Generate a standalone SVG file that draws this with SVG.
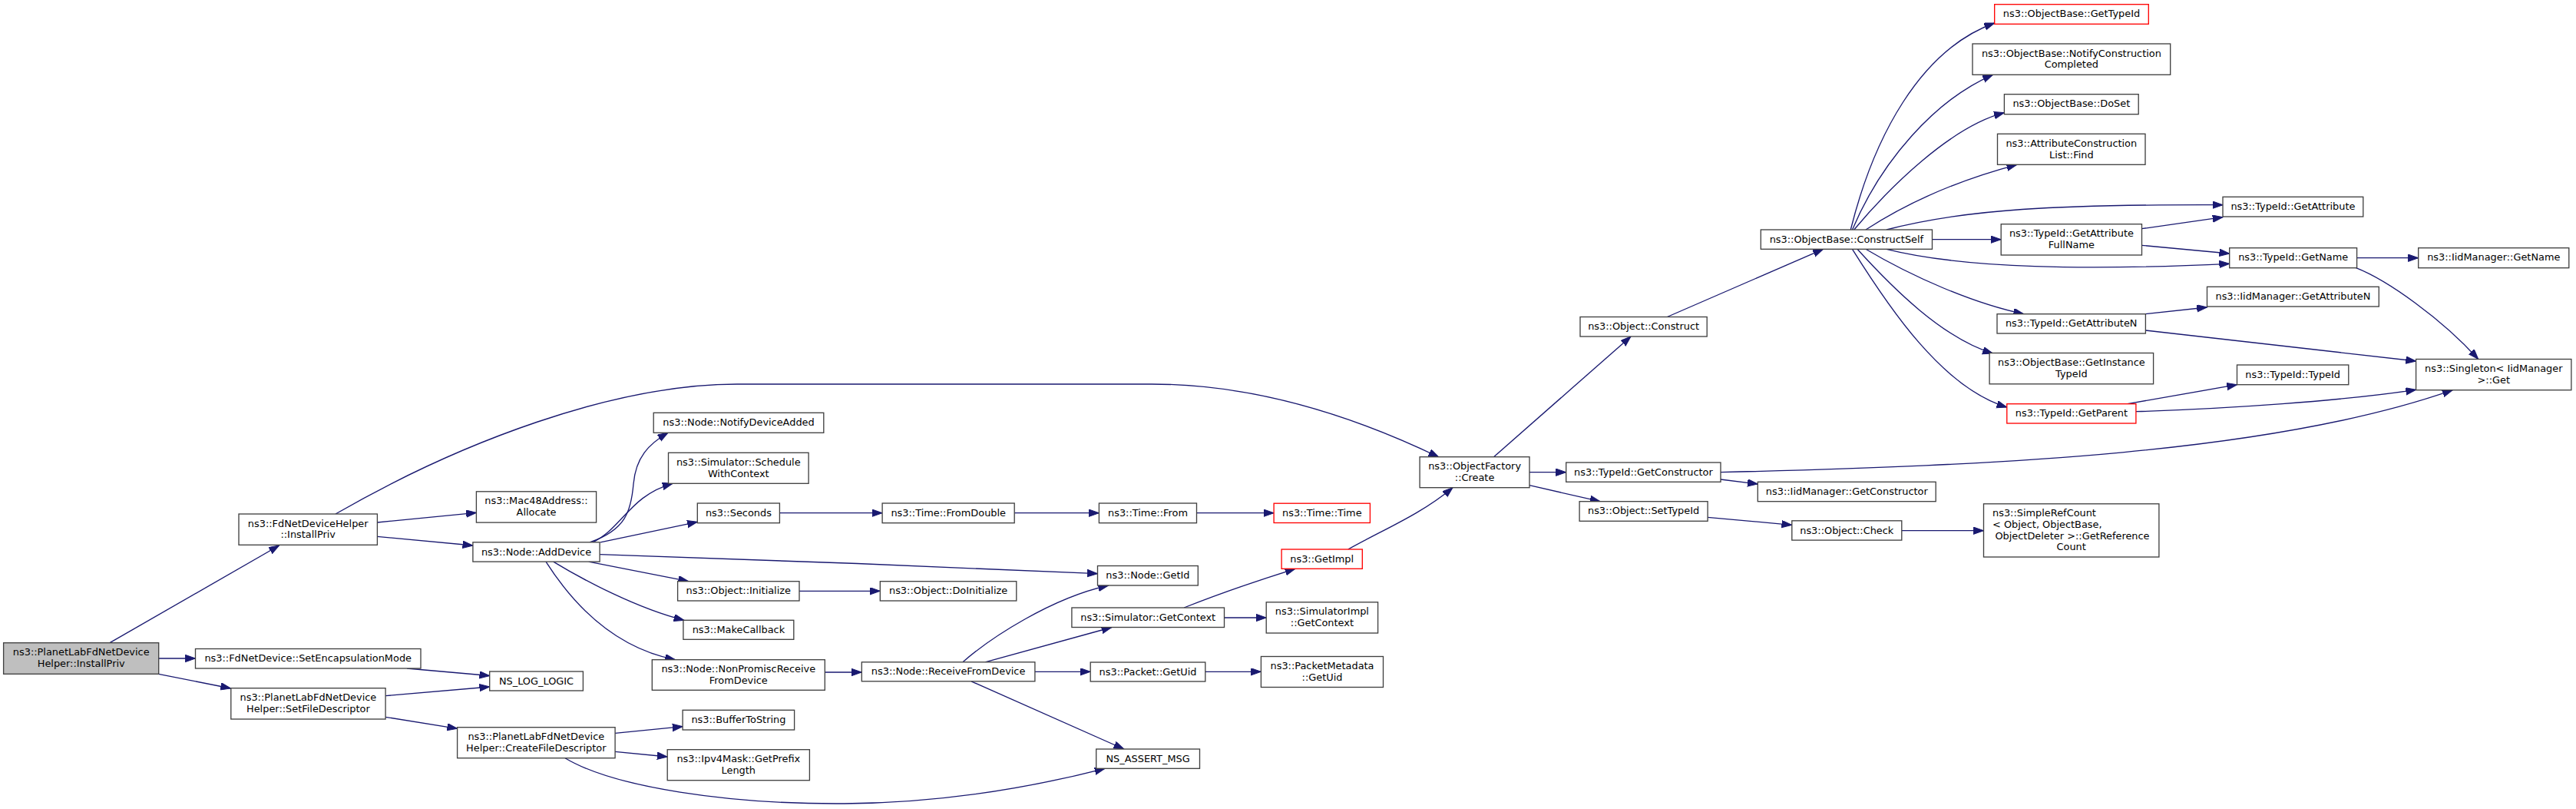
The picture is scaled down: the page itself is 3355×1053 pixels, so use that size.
<svg xmlns="http://www.w3.org/2000/svg" width="3355" height="1053" viewBox="0 0 3355 1053">
<style>
.n rect{fill:#ffffff;stroke:#404040;stroke-width:1.33}
.r rect{stroke:#ff0000}
.g rect{fill:#bfbfbf}
text{font-family:"DejaVu Sans","Liberation Sans",sans-serif;font-size:12.9px;fill:#000000;text-anchor:middle}
.e path{fill:none;stroke:#191970;stroke-width:1.33;marker-end:url(#a)}
</style>
<defs>
<marker id="a" markerUnits="userSpaceOnUse" markerWidth="15" markerHeight="11" refX="13.3" refY="4.7" orient="auto">
<path d="M0,0 L13.3,4.7 L0,9.4 z" fill="#191970" stroke="#191970" stroke-width="1"/>
</marker>
</defs>
<rect width="3355" height="1053" fill="#ffffff"/>
<g id="edges" class="e">
<path d="M143,836.7 L363.6,710"/>
<path d="M206.7,857 L254.5,857"/>
<path d="M206.7,877.3 L300.6,896"/>
<path d="M437,669 C600,575 800,500 960,500 L1500,500 C1640,500 1770,545 1874,595"/>
<path d="M491.4,680 L620.4,667.3"/>
<path d="M491.4,698.3 L615.9,710"/>
<path d="M530,870 L637.7,879.5"/>
<path d="M502,905.7 L637.7,894"/>
<path d="M502,933.3 L595.6,948.3"/>
<path d="M768,705.8 C815,690 822,665 825,630 C828,595 845,578 870,563.3"/>
<path d="M772,705.8 C810,688 820,645 876,629.3"/>
<path d="M782,705.8 L908.3,679.3"/>
<path d="M781.1,721.7 C950,727 1250,738 1429.5,746.7"/>
<path d="M766.7,731.1 L896.8,756.7"/>
<path d="M720.7,731.1 C760,755 830,792 891,807.3"/>
<path d="M711,731.1 C755,800 810,845 879.5,858.7"/>
<path d="M1015.4,667.7 L1149.1,667.7"/>
<path d="M1041,769.3 L1146.3,769.3"/>
<path d="M1074.3,875 L1122.3,875"/>
<path d="M801.1,954.3 L889.1,945.7"/>
<path d="M801.1,978.3 L869.2,985"/>
<path d="M736,986.7 C800,1025 950,1047 1100,1046 C1250,1045 1370,1018 1439,1000.3"/>
<path d="M1321.2,667.7 L1431.4,667.7"/>
<path d="M1558.5,667.7 L1659.1,667.7"/>
<path d="M1254,861.8 C1290,830 1370,778 1443.7,762"/>
<path d="M1283,861.8 L1448,816.5"/>
<path d="M1347.9,874.3 L1420.2,874.3"/>
<path d="M1265,886.8 L1463.8,975"/>
<path d="M1542,791 C1590,772 1640,755 1687,740.3"/>
<path d="M1594.5,804 L1649.2,804"/>
<path d="M1569.8,874.3 L1642.4,874.3"/>
<path d="M1755.8,715 C1800,690 1850,670 1892,634.7"/>
<path d="M1945.5,594.7 L2124,438"/>
<path d="M1992,614.7 L2039.7,614.7"/>
<path d="M1992,631.7 L2084,652.7"/>
<path d="M2171.4,412.5 L2374.5,324.3"/>
<path d="M2241,624 L2289.3,630"/>
<path d="M2241,614.7 C2600,606 2960,590 3194.3,507.7"/>
<path d="M2224.1,673.3 L2333.8,683.3"/>
<path d="M2476.8,690.7 L2583.5,690.7"/>
<path d="M2410.3,299 C2440,180 2500,65 2597.7,30"/>
<path d="M2412.5,299 C2450,210 2520,130 2595.5,97.3"/>
<path d="M2414.7,299 C2460,245 2540,165 2610.4,146.7"/>
<path d="M2430,299 C2490,260 2560,232 2626.8,214.3"/>
<path d="M2457,299 C2560,272 2680,266 2895,266.7"/>
<path d="M2516.5,311.7 L2606.2,311.7"/>
<path d="M2457,324.3 C2560,350 2720,352 2903.7,343.3"/>
<path d="M2430,324.3 C2490,360 2570,395 2635.7,408.7"/>
<path d="M2419,324.3 C2465,375 2530,440 2595.5,460"/>
<path d="M2412.5,324.3 C2460,400 2530,505 2613.8,530"/>
<path d="M2789.5,297.7 L2895,282.7"/>
<path d="M2789.5,319.3 L2903.7,330"/>
<path d="M3069.6,335.7 L3149.7,335.7"/>
<path d="M3068.5,348.7 C3110,365 3180,415 3227.7,467.5"/>
<path d="M2794.4,408.7 L2874.5,400"/>
<path d="M2794.4,430 L3146.6,470"/>
<path d="M2770.8,525.7 L2913.5,500.7"/>
<path d="M2782,535.7 C2900,532 3050,522 3146.6,507.3"/>
</g>
<g id="root" class="n g"><rect x="4.6" y="836.7" width="202.1" height="40.6"/><text x="105.7" y="853.2">ns3::PlanetLabFdNetDevice</text><text x="105.7" y="867.9">Helper::InstallPriv</text></g>
<g id="fdInstall" class="n"><rect x="311" y="669" width="180.4" height="40.3"/><text x="401.2" y="685.5">ns3::FdNetDeviceHelper</text><text x="401.2" y="700.2">::InstallPriv</text></g>
<g id="setEncap" class="n"><rect x="254.5" y="844.5" width="293.5" height="25.5"/><text x="401.2" y="861.2">ns3::FdNetDevice::SetEncapsulationMode</text></g>
<g id="setFileDesc" class="n"><rect x="300.8" y="895.7" width="201.3" height="40.3"/><text x="401.4" y="912.2">ns3::PlanetLabFdNetDevice</text><text x="401.4" y="926.9">Helper::SetFileDescriptor</text></g>
<g id="mac48" class="n"><rect x="620.4" y="639.8" width="156.2" height="40.3"/><text x="698.5" y="656.3">ns3::Mac48Address::</text><text x="698.5" y="671">Allocate</text></g>
<g id="addDevice" class="n"><rect x="615.9" y="705.8" width="165.2" height="25.3"/><text x="698.5" y="722.5">ns3::Node::AddDevice</text></g>
<g id="nsLogLogic" class="n"><rect x="637.7" y="874" width="121.7" height="25"/><text x="698.5" y="890.6">NS_LOG_LOGIC</text></g>
<g id="createFD" class="n"><rect x="595.6" y="946.7" width="205.5" height="40"/><text x="698.3" y="963.2">ns3::PlanetLabFdNetDevice</text><text x="698.3" y="977.9">Helper::CreateFileDescriptor</text></g>
<g id="notifyDev" class="n"><rect x="851.2" y="537.3" width="221.6" height="26"/><text x="962" y="554">ns3::Node::NotifyDeviceAdded</text></g>
<g id="schedule" class="n"><rect x="870.5" y="589.3" width="182.6" height="40"/><text x="961.8" y="605.8">ns3::Simulator::Schedule</text><text x="961.8" y="620.5">WithContext</text></g>
<g id="seconds" class="n"><rect x="908.3" y="655" width="107.1" height="25.7"/><text x="961.9" y="671.7">ns3::Seconds</text></g>
<g id="objInit" class="n"><rect x="882.6" y="756.7" width="158.4" height="25.3"/><text x="961.8" y="773.3">ns3::Object::Initialize</text></g>
<g id="makeCallback" class="n"><rect x="889.9" y="807.3" width="143.9" height="25"/><text x="961.9" y="823.9">ns3::MakeCallback</text></g>
<g id="nonPromisc" class="n"><rect x="849.3" y="858.7" width="225" height="39.6"/><text x="961.8" y="875.2">ns3::Node::NonPromiscReceive</text><text x="961.8" y="889.9">FromDevice</text></g>
<g id="bufferToString" class="n"><rect x="889.1" y="924.3" width="145.5" height="25.7"/><text x="961.9" y="941">ns3::BufferToString</text></g>
<g id="ipv4Mask" class="n"><rect x="869.2" y="975.7" width="185.2" height="40"/><text x="961.8" y="992.2">ns3::Ipv4Mask::GetPrefix</text><text x="961.8" y="1006.9">Length</text></g>
<g id="fromDouble" class="n"><rect x="1149.1" y="655" width="172.1" height="25.7"/><text x="1235.2" y="671.7">ns3::Time::FromDouble</text></g>
<g id="doInit" class="n"><rect x="1146.3" y="756.7" width="177.5" height="25.3"/><text x="1235.1" y="773.3">ns3::Object::DoInitialize</text></g>
<g id="recvFromDev" class="n"><rect x="1122.3" y="861.8" width="225.6" height="25"/><text x="1235.1" y="878.4">ns3::Node::ReceiveFromDevice</text></g>
<g id="timeFrom" class="n"><rect x="1431.4" y="655" width="127.1" height="25.7"/><text x="1495" y="671.7">ns3::Time::From</text></g>
<g id="getId" class="n"><rect x="1429.5" y="736.5" width="130.8" height="25.5"/><text x="1494.9" y="753.2">ns3::Node::GetId</text></g>
<g id="simGetContext" class="n"><rect x="1395.9" y="791" width="198.6" height="25.5"/><text x="1495.2" y="807.7">ns3::Simulator::GetContext</text></g>
<g id="packetGetUid" class="n"><rect x="1420.2" y="862" width="149.6" height="25"/><text x="1495" y="878.6">ns3::Packet::GetUid</text></g>
<g id="nsAssert" class="n"><rect x="1427.7" y="975" width="134.8" height="25.3"/><text x="1495.1" y="991.7">NS_ASSERT_MSG</text></g>
<g id="timeTime" class="n r"><rect x="1659.1" y="655.2" width="125.3" height="25.3"/><text x="1721.8" y="671.9">ns3::Time::Time</text></g>
<g id="getImpl" class="n r"><rect x="1669.1" y="715" width="105.2" height="25.3"/><text x="1721.7" y="731.7">ns3::GetImpl</text></g>
<g id="simImplGetContext" class="n"><rect x="1649.2" y="783.8" width="145.4" height="40.2"/><text x="1721.9" y="800.3">ns3::SimulatorImpl</text><text x="1721.9" y="815">::GetContext</text></g>
<g id="pmGetUid" class="n"><rect x="1642.4" y="854.5" width="159.1" height="40"/><text x="1722" y="871">ns3::PacketMetadata</text><text x="1722" y="885.7">::GetUid</text></g>
<g id="objFactoryCreate" class="n"><rect x="1849.1" y="594.7" width="142.9" height="40"/><text x="1920.6" y="611.2">ns3::ObjectFactory</text><text x="1920.6" y="625.9">::Create</text></g>
<g id="objConstruct" class="n"><rect x="2058" y="412.5" width="165.2" height="25.5"/><text x="2140.6" y="429.2">ns3::Object::Construct</text></g>
<g id="typeIdGetConstructor" class="n"><rect x="2039.7" y="602" width="201.3" height="25.3"/><text x="2140.4" y="618.7">ns3::TypeId::GetConstructor</text></g>
<g id="objSetTypeId" class="n"><rect x="2057.1" y="652.7" width="167" height="25.6"/><text x="2140.6" y="669.4">ns3::Object::SetTypeId</text></g>
<g id="iidGetConstructor" class="n"><rect x="2289.3" y="627.3" width="231.9" height="25.4"/><text x="2405.3" y="644">ns3::IidManager::GetConstructor</text></g>
<g id="objCheck" class="n"><rect x="2333.8" y="677.8" width="143" height="25.3"/><text x="2405.3" y="694.5">ns3::Object::Check</text></g>
<g id="constructSelf" class="n"><rect x="2293.3" y="299" width="223.2" height="25.3"/><text x="2404.9" y="315.7">ns3::ObjectBase::ConstructSelf</text></g>
<g id="getTypeId" class="n r"><rect x="2597.7" y="5.7" width="200.6" height="25.6"/><text x="2698" y="22.4">ns3::ObjectBase::GetTypeId</text></g>
<g id="notifyConstruction" class="n"><rect x="2569" y="57" width="257.7" height="40.3"/><text x="2697.9" y="73.5">ns3::ObjectBase::NotifyConstruction</text><text x="2697.9" y="88.2">Completed</text></g>
<g id="doSet" class="n"><rect x="2610.4" y="122.7" width="174.8" height="26"/><text x="2697.8" y="139.4">ns3::ObjectBase::DoSet</text></g>
<g id="attrConstrList" class="n"><rect x="2601.5" y="174.3" width="192.5" height="40"/><text x="2697.8" y="190.8">ns3::AttributeConstruction</text><text x="2697.8" y="205.5">List::Find</text></g>
<g id="typeIdGetAttribute" class="n"><rect x="2895" y="256.3" width="182.8" height="25.7"/><text x="2986.4" y="273">ns3::TypeId::GetAttribute</text></g>
<g id="getAttrFullName" class="n"><rect x="2606.2" y="291.7" width="183.3" height="40.3"/><text x="2697.9" y="308.2">ns3::TypeId::GetAttribute</text><text x="2697.9" y="322.9">FullName</text></g>
<g id="typeIdGetName" class="n"><rect x="2903.7" y="322.7" width="165.9" height="26"/><text x="2986.7" y="339.4">ns3::TypeId::GetName</text></g>
<g id="iidGetName" class="n"><rect x="3149.7" y="322.7" width="196.1" height="26"/><text x="3247.8" y="339.4">ns3::IidManager::GetName</text></g>
<g id="iidGetAttributeN" class="n"><rect x="2874.5" y="373.3" width="223.8" height="25.7"/><text x="2986.4" y="390">ns3::IidManager::GetAttributeN</text></g>
<g id="getAttributeN" class="n"><rect x="2601" y="408.7" width="193.4" height="25.3"/><text x="2697.7" y="425.4">ns3::TypeId::GetAttributeN</text></g>
<g id="getInstanceTypeId" class="n"><rect x="2591.1" y="459.5" width="213.5" height="40.3"/><text x="2697.9" y="476">ns3::ObjectBase::GetInstance</text><text x="2697.9" y="490.7">TypeId</text></g>
<g id="typeIdTypeId" class="n"><rect x="2913.5" y="475" width="145.3" height="25.7"/><text x="2986.2" y="491.7">ns3::TypeId::TypeId</text></g>
<g id="singletonGet" class="n"><rect x="3146.6" y="467.5" width="202.3" height="40.2"/><text x="3247.8" y="484">ns3::Singleton&lt; IidManager</text><text x="3247.8" y="498.7">&gt;::Get</text></g>
<g id="getParent" class="n r"><rect x="2613.8" y="525.7" width="168.1" height="25.3"/><text x="2697.9" y="542.4">ns3::TypeId::GetParent</text></g>
<g id="simpleRefCount" class="n"><rect x="2583.5" y="655.8" width="228.4" height="69.2"/><text x="2595" y="672.3" style="text-anchor:start">ns3::SimpleRefCount</text><text x="2595" y="687" style="text-anchor:start">&lt; Object, ObjectBase,</text><text x="2699" y="701.7">ObjectDeleter &gt;::GetReference</text><text x="2697.7" y="716.4">Count</text></g>
</svg>
